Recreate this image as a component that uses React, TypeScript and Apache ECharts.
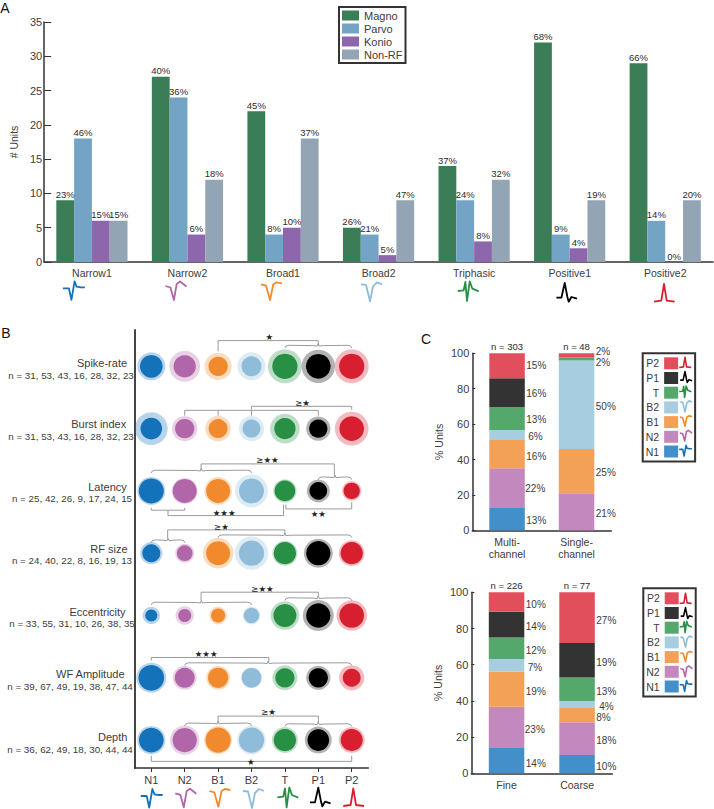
import React, { useEffect, useRef } from "react";
import * as echarts from "echarts";

const FONT = "Liberation Sans";
const TXT = "#3c3c3c";
const AXIS = "#333333";

// Panel A
const unitTypes = ["Narrow1", "Narrow2", "Broad1", "Broad2", "Triphasic", "Positive1", "Positive2"];
const magno = [9, 27, 22, 5, 14, 32, 29];
const parvo = [18, 24, 4, 4, 9, 4, 6];
const konio = [6, 4, 5, 1, 3, 2, 0];
const nonRF = [6, 12, 18, 9, 12, 9, 9];
const magnoPct = [23, 40, 45, 26, 37, 68, 66];
const parvoPct = [46, 36, 8, 21, 24, 9, 14];
const konioPct = [15, 6, 10, 5, 8, 4, 0];
const nonRFPct = [15, 18, 37, 47, 32, 19, 20];

// Panel B
const shortTypes = ["N1", "N2", "B1", "B2", "T", "P1", "P2"];
const typeColors = ["#1472bb", "#b266aa", "#f08a2d", "#8fbdd9", "#279044", "#000000", "#d81f2f"];
const propNames = ["Spike-rate", "Burst index", "Latency", "RF size", "Eccentricity", "WF Amplitude", "Depth"];
const propCounts = [
  "n = 31, 53, 43, 16, 28, 32, 23",
  "n = 31, 53, 43, 16, 28, 32, 23",
  "n = 25, 42, 26, 9, 17, 24, 15",
  "n = 24, 40, 22, 8, 16, 19, 13",
  "n = 33, 55, 31, 10, 26, 38, 35",
  "n = 39, 67, 49, 19, 38, 47, 44",
  "n = 36, 62, 49, 18, 30, 44, 44",
];
const haloSize = [
  [28, 31, 27.3, 28, 34, 33.3, 34],
  [32.7, 25.3, 25.7, 25.3, 29.7, 24.3, 33.7],
  [28, 26, 27.7, 32.7, 23.3, 23, 19.3],
  [22.3, 19, 30.7, 33.3, 25, 29, 25.7],
  [17.3, 18.3, 17.7, 17.7, 28.7, 31, 30.7],
  [30, 24, 24, 21, 25, 24.3, 25.3],
  [28.3, 29.3, 28, 28.7, 26, 27, 26],
];
const coreSize = [
  [22.7, 22.3, 19.3, 20, 25.3, 24.7, 25.3],
  [21.7, 19.3, 19, 18, 21.3, 18.3, 24.7],
  [25, 24, 24, 25, 20.7, 17.7, 16.3],
  [18, 15.7, 24, 25.3, 22.3, 24.3, 22.3],
  [12, 13, 14, 15.3, 23, 24.3, 24.7],
  [25.7, 20, 20.3, 19.7, 19.3, 19.3, 18],
  [24.7, 24.3, 25.3, 25.3, 22.3, 21.7, 22],
];
// [row, points of [column, offset from the row in pixels]]
const brackets: [number, number[][]][] = [
  [0, [[2, -15], [2, -25.7], [5, -25.7], [5, -21]]],
  [1, [[3, -19], [3, -22.3], [6, -22.3], [6, -19]]],
  [1, [[1, -13], [1, -18.3], [5, -18.3], [5, -13]]],
  [1, [[2, -18.3], [2, -13]]],
  [1, [[3, -18.3], [3, -13]]],
  [2, [[1.49, -21], [1.49, -27], [5.48, -27], [5.48, -15]]],
  [2, [[0, 17], [0, 19.3], [1, 19.3], [1, 17]]],
  [2, [[0.5, 19.3], [0.5, 24.7], [3.96, 24.7], [3.96, 13.7]]],
  [2, [[4.03, 13.7], [4.03, 18], [6, 18], [6, 11.3]]],
  [3, [[0.49, -15], [0.49, -23.3], [4, -23.3], [4, -19]]],
  [4, [[1.49, -15], [1.49, -23.3], [5, -23.3], [5, -18.7]]],
  [5, [[0, -17.3], [0, -20.3], [3.52, -20.3], [3.52, -16]]],
  [6, [[2, -18], [2, -24], [5, -24], [5, -17.3]]],
  [6, [[0, 15.7], [0, 21.3], [6, 21.3], [6, 15.7]]],
];
// [row, first column, last column, offset from the row in pixels]
const braces: number[][] = [
  [0, 4, 6, -21],
  [2, 0, 3, -20.7],
  [2, 5, 6, -14],
  [3, 0, 1, -13.3],
  [3, 2, 6, -18.3],
  [4, 0, 3, -13.3],
  [4, 4, 6, -17.7],
  [5, 1, 6, -15],
  [6, 1, 3, -17],
  [6, 4, 6, -16.3],
];
// [row, column, offset, text]
const stars: [number, number, number, string][] = [
  [0, 3.53, -29.7, "★"],
  [1, 4.53, -25.7, "≥★"],
  [2, 3.48, -30.7, "≥★★"],
  [2, 2.18, 22.3, "★★★"],
  [2, 5, 23, "★★"],
  [3, 2.1, -26.3, "≥★"],
  [4, 3.33, -26.7, "≥★★"],
  [5, 1.64, -24, "★★★"],
  [6, 3.51, -28, "≥★"],
  [6, 2.98, 22, "★"],
];

// Panel C
const segmentColors = ["#438fca", "#c388bd", "#f3a157", "#a7cde0", "#54a86c", "#333333", "#e14f5d"];
const recCats = ["Multi-\nchannel", "Single-\nchannel"];
const recTotals = ["n = 303", "n = 48"];
const multiValues = [13, 22, 16, 5.7, 13, 16.2, 14.1];
const singleValues = [0, 20.9, 25.1, 49.9, 1.9, 0, 2.2];
const multiLabels = [13, 22, 16, 6, 13, 16, 15];
const singleLabels = [0, 21, 25, 50, 2, 0, 2];
const acuityCats = ["Fine", "Coarse"];
const acuityTotals = ["n = 226", "n = 77"];
const fineValues = [14, 22.8, 19.4, 7, 11.8, 14.3, 10.7];
const coarseValues = [10.1, 18.1, 7.9, 3.9, 12.9, 19.1, 28];
const fineLabels = [14, 23, 19, 7, 12, 14, 10];
const coarseLabels = [10, 18, 8, 4, 13, 19, 27];

// Spike waveform sketches, one per type
const waveforms: number[][][] = [
  [[-10, 0], [-4, 0], [-1.5, 11.5], [1.7, -7], [3.7, -1.7], [8, -1], [12, -1]],
  [[-9, 0], [-4, 1.5], [-0.5, 14], [2.3, -2], [5.7, -4.5], [12, 0.5]],
  [[-9, 0], [-4, 1.3], [0, 15.7], [3.3, 0], [6.7, -2], [12, -1]],
  [[-9, 0], [-4, 0.5], [0, 17], [3, 2], [7, -2], [12, 0]],
  [[-10, 0], [-4, -0.7], [-2.3, -9], [-0.7, 10], [2, -9.7], [4.7, -2.3], [11, 0.3]],
  [[-8.3, 0], [-3.3, 0], [0, -14.7], [2.7, -0.7], [4, 4], [6.7, -0.7], [12.3, 1]],
  [[-10, 0], [-2.7, -1], [0, -17.7], [2.7, -1], [10.7, 0]],
];

function glyph(i: number, x: number, y: number, scale: number, lineWidth: number) {
  return {
    type: "polyline",
    silent: true,
    z: 20,
    shape: { points: waveforms[i].map(([a, b]) => [x + a * scale, y + b * scale]) },
    style: { stroke: typeColors[i], lineWidth, fill: null, lineJoin: "round" },
  };
}

function glyphInRow(i: number, x: number, rowY: number) {
  const ys = waveforms[i].map((p) => p[1]);
  const s = 0.58;
  const mid = ((Math.min(...ys) + Math.max(...ys)) / 2) * s;
  return glyph(i, x, rowY - mid, s, 1.6);
}

function label(text: string, x: number, y: number, size = 10, color = TXT) {
  return {
    type: "text",
    silent: true,
    x,
    y,
    style: { text, fill: color, font: `${size}px "${FONT}"`, textAlign: "center", textVerticalAlign: "middle" },
  };
}

function barA(name: string, color: string, values: number[], pct: number[]) {
  return {
    type: "bar",
    name,
    xAxisIndex: 0,
    yAxisIndex: 0,
    barWidth: 17.8,
    barGap: 0,
    itemStyle: { color },
    data: values,
    label: {
      show: true,
      position: "top",
      distance: 1,
      color: "#2c2c2c",
      fontFamily: FONT,
      fontSize: 9.5,
      formatter: (p: any) => `${pct[p.dataIndex]}%`,
    },
  };
}

function stackSeries(
  stack: string,
  xAxisIndex: number,
  yAxisIndex: number,
  colValues: number[][],
  colLabels: number[][],
  colOffsets: number[][][],
) {
  return shortTypes.map((name, t) => ({
    type: "bar",
    name,
    stack,
    xAxisIndex,
    yAxisIndex,
    barWidth: 35.5,
    itemStyle: { color: segmentColors[t] },
    data: colValues.map((vals, c) => ({
      value: vals[t],
      label: {
        show: colLabels[c][t] > 0,
        position: "right",
        distance: 1.5,
        color: TXT,
        fontFamily: FONT,
        fontSize: 10,
        formatter: `${colLabels[c][t]}%`,
        offset: colOffsets[c][t],
      },
    })),
  }));
}

function cLegend(top: number, left: number) {
  return {
    show: true,
    orient: "vertical",
    left,
    top,
    align: "right",
    data: [...shortTypes].reverse(),
    itemWidth: 14,
    itemHeight: 12,
    itemGap: 2.7,
    padding: [4, 17, 4, 3],
    borderColor: AXIS,
    borderWidth: 2,
    icon: "rect",
    textStyle: { color: TXT, fontFamily: FONT, fontSize: 10.5, padding: 0 },
    selectedMode: false,
  };
}

function cValueAxis(gridIndex: number) {
  return {
    type: "value",
    gridIndex,
    min: 0,
    max: 100,
    interval: 20,
    name: "% Units",
    nameLocation: "middle",
    nameRotate: 90,
    nameGap: 28,
    nameTextStyle: { color: TXT, fontFamily: FONT, fontSize: 10.5 },
    splitLine: { show: false },
    axisLine: { show: true, lineStyle: { color: AXIS, width: 1.5 } },
    axisTick: { show: true, inside: true, length: 3, lineStyle: { color: AXIS } },
    axisLabel: { color: TXT, fontFamily: FONT, fontSize: 11, margin: 3 },
  };
}

function cCatAxis(gridIndex: number, data: string[]) {
  return {
    type: "category",
    gridIndex,
    position: "bottom",
    data,
    axisLine: { lineStyle: { color: AXIS, width: 1.5 } },
    axisTick: { show: false },
    axisLabel: { color: TXT, fontFamily: FONT, fontSize: 10.5, margin: 5, lineHeight: 12.5, interval: 0 },
  };
}

function cTopAxis(gridIndex: number, data: string[]) {
  return {
    type: "category",
    gridIndex,
    position: "top",
    data,
    axisLine: { show: false },
    axisTick: { show: false },
    axisLabel: { color: "#2c2c2c", fontFamily: FONT, fontSize: 9.5, margin: 2, interval: 0 },
  };
}

const ROW_PX = 62.3;

const labelYs = [362.7, 424, 487, 549.3, 612.3, 674, 736.7];
const labelXs = [102, 98.7, 107.5, 109, 97.5, 90.3, 112.7];
const countYs = [375, 436.7, 498, 560.7, 623.3, 686, 749];
const countXs = [71, 71, 72, 72, 72, 70, 70];

const glyphsA = [[72.9, 288.3], [174.4, 286], [270, 284.3], [370, 284.3], [467.7, 291], [564.7, 297.7], [664, 301.7]];
const glyphsB = [[150.7, 796], [184.3, 793.3], [218.3, 791], [252, 791], [287.3, 797.3], [318.3, 802.3], [353.3, 806]];

export default function App() {
  const ref = useRef<HTMLDivElement>(null);

  useEffect(() => {
    document.body.style.margin = "0";
    const chart = echarts.init(ref.current!, undefined, { renderer: "svg" });

    const halos: any[] = [];
    const cores: any[] = [];
    haloSize.forEach((row, r) =>
      row.forEach((s, c) => {
        halos.push({ value: [c, r, s], itemStyle: { color: typeColors[c], opacity: 0.3 } });
        cores.push({ value: [c, r, coreSize[r][c]], itemStyle: { color: typeColors[c], opacity: 1 } });
      }),
    );

    const shapes: any[] = [
      ...brackets.map(([r, pts]) => pts.map(([c, d]) => [c, r + d / ROW_PX])),
      ...braces.map(([r, a, b, d]) => {
        const mid = (a + b) / 2;
        const y = (px: number) => r + (d + px) / ROW_PX;
        const u = 1 / 33.4;
        return [
          [a, y(2.7)],
          [a + 1 * u, y(0.8)],
          [a + 4 * u, y(0)],
          [mid - 5 * u, y(0.3)],
          [mid - 1 * u, y(0.8)],
          [mid, y(-1.8)],
          [mid + 1 * u, y(0.8)],
          [mid + 5 * u, y(0.3)],
          [b - 4 * u, y(0)],
          [b - 1 * u, y(0.8)],
          [b, y(2.7)],
        ];
      }),
    ];

    const option: any = {
      animation: false,
      backgroundColor: "#ffffff",
      textStyle: { fontFamily: FONT },
      grid: [
        { left: 29, top: 22, width: 684, height: 240 },
        { left: 134.6, top: 330, width: 233.8, height: 438 },
        { left: 472.3, top: 353.3, width: 139, height: 177 },
        { left: 471.3, top: 592.3, width: 141, height: 181 },
      ],
      legend: [
        {
          show: true,
          orient: "vertical",
          left: 339,
          top: 7,
          data: ["Magno", "Parvo", "Konio", "Non-RF"],
          itemWidth: 17,
          itemHeight: 10,
          itemGap: 2,
          padding: [3, 3, 3, 3],
          borderColor: AXIS,
          borderWidth: 2,
          icon: "rect",
          textStyle: { color: TXT, fontFamily: FONT, fontSize: 11 },
          selectedMode: false,
        },
        cLegend(353.3, 642.7),
        cLegend(588.3, 643.3),
      ],
      xAxis: [
        {
          type: "category",
          gridIndex: 0,
          data: unitTypes,
          axisLine: { lineStyle: { color: AXIS, width: 1.5 } },
          axisTick: { show: false },
          axisLabel: { color: TXT, fontFamily: FONT, fontSize: 10.5, margin: 5, interval: 0 },
        },
        {
          type: "value",
          gridIndex: 1,
          position: "top",
          min: -0.5,
          max: 6.5,
          show: false,
        },
        {
          type: "category",
          gridIndex: 1,
          position: "bottom",
          data: shortTypes,
          axisLine: { onZero: false, lineStyle: { color: AXIS, width: 1.5 } },
          axisTick: { show: true, alignWithLabel: true, length: 4, lineStyle: { color: AXIS } },
          axisLabel: { color: TXT, fontFamily: FONT, fontSize: 11, margin: 6, interval: 0 },
        },
        cCatAxis(2, recCats),
        cTopAxis(2, recTotals),
        cCatAxis(3, acuityCats),
        cTopAxis(3, acuityTotals),
      ],
      yAxis: [
        {
          type: "value",
          gridIndex: 0,
          min: 0,
          max: 35,
          interval: 5,
          name: "# Units",
          nameLocation: "middle",
          nameRotate: 90,
          nameGap: 22,
          nameTextStyle: { color: TXT, fontFamily: FONT, fontSize: 10.5 },
          splitLine: { show: false },
          axisLine: { show: true, lineStyle: { color: AXIS, width: 1.5 } },
          axisTick: { show: true, inside: true, length: 7, lineStyle: { color: AXIS } },
          axisLabel: { color: TXT, fontFamily: FONT, fontSize: 11, margin: 2 },
        },
        {
          type: "value",
          gridIndex: 1,
          inverse: true,
          min: -0.583,
          max: 6.448,
          splitLine: { show: false },
          axisLine: { show: true, onZero: false, lineStyle: { color: "#444444", width: 2 } },
          axisTick: { show: false },
          axisLabel: { show: false },
        },
        cValueAxis(2),
        cValueAxis(3),
      ],
      series: [
        barA("Magno", "#3a7d57", magno, magnoPct),
        barA("Parvo", "#73a4c6", parvo, parvoPct),
        barA("Konio", "#8e66ac", konio, konioPct),
        barA("Non-RF", "#93a5b5", nonRF, nonRFPct),
        {
          type: "custom",
          name: "brackets",
          xAxisIndex: 1,
          yAxisIndex: 1,
          silent: true,
          clip: false,
          encode: { x: 0, y: 1 },
          data: shapes.map((_, i) => [0, 0, i]),
          renderItem: (_: any, api: any) => ({
            type: "polyline",
            shape: { points: shapes[api.value(2)].map((p: number[]) => api.coord(p)) },
            style: { stroke: "#9a9a9a", lineWidth: 1, fill: null },
          }),
        },
        {
          type: "custom",
          name: "stars",
          xAxisIndex: 1,
          yAxisIndex: 1,
          silent: true,
          clip: false,
          encode: { x: 0, y: 1 },
          data: stars.map(([r, c, d]) => [c, r + d / ROW_PX]),
          renderItem: (p: any, api: any) => {
            const [x, y] = api.coord([api.value(0), api.value(1)]);
            return {
              type: "text",
              x,
              y,
              style: {
                text: stars[p.dataIndex][3],
                fill: "#222222",
                font: '8.5px "DejaVu Sans"',
                textAlign: "center",
                textVerticalAlign: "middle",
              },
            };
          },
        },
        {
          type: "scatter",
          name: "halo",
          xAxisIndex: 1,
          yAxisIndex: 1,
          symbolSize: (v: number[]) => v[2],
          data: halos,
        },
        {
          type: "scatter",
          name: "core",
          xAxisIndex: 1,
          yAxisIndex: 1,
          symbolSize: (v: number[]) => v[2],
          data: cores,
        },
        ...stackSeries(
          "rec",
          3,
          2,
          [multiValues, singleValues],
          [multiLabels, singleLabels],
          [
            [[0, 2], [-1, 1], [0, 2], [2, 2], [0, 1.5], [0, 1], [0, 0]],
            [[0, 0], [0, 2], [0, 1.5], [0, 1.5], [0, 3.2], [0, 0], [0, -3.8]],
          ],
        ),
        ...stackSeries(
          "acuity",
          5,
          3,
          [fineValues, coarseValues],
          [fineLabels, coarseLabels],
          [
            [[0, 2.4], [-1, 2], [0, 2], [2, 2.7], [0, 2], [0, 1.5], [0, 2.5]],
            [[0, 2], [0, 2], [0, 2], [3, 2], [0, 2], [0, 2], [0, 2.5]],
          ],
        ),
      ],
      graphic: [
        label("A", 5, 8, 14, "#111111"),
        label("B", 6, 333, 14, "#111111"),
        label("C", 426, 339, 14, "#111111"),
        ...propNames.map((t, i) => label(t, labelXs[i], labelYs[i], 11)),
        ...propCounts.map((t, i) => label(t, countXs[i], countYs[i], 9.8)),
        ...glyphsA.map(([x, y], i) => glyph(i, x, y, 1, 1.8)),
        ...glyphsB.map(([x, y], i) => glyph(i, x, y, 1, 1.8)),
        ...[...shortTypes.keys()].map((i) => glyphInRow(i, 685, 320 + [392, 347, 303, 259, 215, 171, 127][i] / 3)),
        ...[...shortTypes.keys()].map((i) => glyphInRow(i, 685.5, 560 + [378, 334, 290, 245, 201, 159, 115][i] / 3)),
      ],
    };
    chart.setOption(option);
    return () => chart.dispose();
  }, []);

  return <div ref={ref} style={{ position: "absolute", left: 0, top: 0, width: 714, height: 809 }} />;
}
